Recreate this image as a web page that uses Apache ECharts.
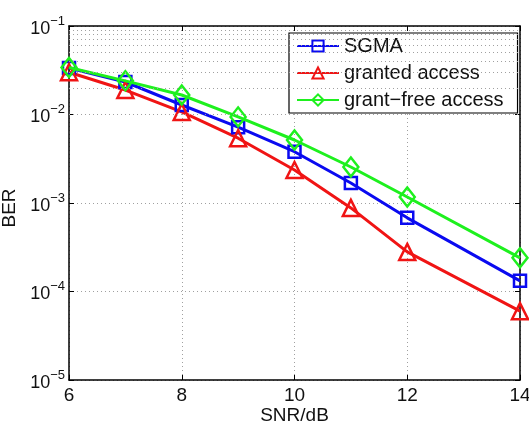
<!DOCTYPE html>
<html><head><meta charset="utf-8">
<script src="https://cdn.jsdelivr.net/npm/echarts@6/dist/echarts.min.js"></script>
<style>html,body{margin:0;padding:0;background:#fff}#c{width:529px;height:427px}</style>
</head><body><div id="c"></div>
<script>
const snr = [6, 7, 8, 9, 10, 11, 12, 14];
const sgma = [0.0335, 0.0233, 0.0128, 0.0072, 0.0038, 0.00168, 0.00068, 0.000132];
const granted = [0.030, 0.0189, 0.0107, 0.0054, 0.00236, 0.00088, 0.00028, 0.000060];
const grantFree = [0.0340, 0.0240, 0.0166, 0.0094, 0.00515, 0.00255, 0.00117, 0.00024];
const xTicks = [6, 8, 10, 12, 14];
const yMinor = [];
for (let e = -5; e < -1; e++) for (let m = 2; m <= 9; m++) yMinor.push(m * Math.pow(10, e));

const FONT = 'Liberation Sans';
const pair = (xs, ys) => xs.map((x, i) => [x, ys[i]]);
const supFmt = v => {
  const e = Math.round(Math.log10(v));
  return '{b|10}{s|' + (e < 0 ? '\u2212' : '') + Math.abs(e) + '}';
};
const dotted = { color: '#a0a0a0', type: [1, 3], width: 1 };

const chart = echarts.init(document.getElementById('c'));
chart.setOption({
  animation: false,
  backgroundColor: '#fff',
  grid: { left: 69, right: 9, top: 26, bottom: 47, show: false, outerBoundsMode: 'none', containLabel: false },
  legend: {
    orient: 'vertical', left: 289, top: 33,
    padding: [3, 14, 3, 7], itemGap: 7, itemWidth: 42, itemHeight: 14,
    borderColor: '#000', borderWidth: 1.2, backgroundColor: '#fff',
    textStyle: { fontFamily: FONT, fontSize: 20, color: '#111' },
    data: ['SGMA', 'granted access', 'grant\u2212free access']
  },
  xAxis: [{
    type: 'value', min: 6, max: 14, interval: 2,
    name: 'SNR/dB', nameLocation: 'middle', nameGap: 26, nameMoveOverlap: false,
    nameTextStyle: { fontFamily: FONT, fontSize: 19, color: '#111' },
    axisLine: { lineStyle: { color: '#000', width: 1.5 } },
    axisTick: { inside: true, length: 5, lineStyle: { color: '#000' } },
    axisLabel: { fontFamily: FONT, fontSize: 19, color: '#111', margin: 6,
      formatter: v => xTicks.includes(v) ? String(v) : '' },
    splitLine: { show: true, lineStyle: dotted }
  }, {
    type: 'value', min: 6, max: 14, interval: 2, position: 'top',
    axisLine: { onZero: false, lineStyle: { color: '#000', width: 1.5 } },
    axisTick: { inside: true, length: 5, lineStyle: { color: '#000' } },
    axisLabel: { show: false }, splitLine: { show: false }
  }],
  yAxis: [{
    type: 'log', logBase: 10, min: 1e-5, max: 1e-1,
    name: 'BER', nameLocation: 'middle', nameGap: 50, nameMoveOverlap: false,
    nameTextStyle: { fontFamily: FONT, fontSize: 19, color: '#111', padding: [0, 10, 0, 0] },
    axisLine: { show: true, lineStyle: { color: '#000', width: 1.5 } },
    axisTick: { inside: true, length: 5, lineStyle: { color: '#000' } },
    axisLabel: {
      margin: 4, formatter: supFmt,
      rich: {
        b: { fontFamily: FONT, fontSize: 18, color: '#111', padding: [6, 0, 0, 0] },
        s: { fontFamily: FONT, fontSize: 13, color: '#111', padding: [0, 0, 10, 0] }
      }
    },
    splitLine: { show: true, lineStyle: dotted }
  }, {
    type: 'log', logBase: 10, min: 1e-5, max: 1e-1, position: 'right',
    axisLine: { show: true, onZero: false, lineStyle: { color: '#000', width: 1.5 } },
    axisTick: { inside: true, length: 5, lineStyle: { color: '#000' } },
    axisLabel: { show: false }, splitLine: { show: false }
  }],
  series: [{
    type: 'line', name: 'SGMA', data: pair(snr, sgma),
    symbol: 'rect', symbolSize: 12, z: 3,
    lineStyle: { color: '#0a0af0', width: 3 },
    itemStyle: { color: 'rgba(255,255,255,0)', borderColor: '#0a0af0', borderWidth: 2.5 },
    markLine: {
      silent: true, symbol: 'none', label: { show: false }, animation: false,
      lineStyle: dotted, data: yMinor.map(v => ({ yAxis: v }))
    }
  }, {
    type: 'line', name: 'granted access', data: pair(snr, granted),
    symbol: 'triangle', symbolSize: 16, z: 3,
    lineStyle: { color: '#f01414', width: 3 },
    itemStyle: { color: 'rgba(255,255,255,0)', borderColor: '#f01414', borderWidth: 2.5 }
  }, {
    type: 'line', name: 'grant\u2212free access', data: pair(snr, grantFree),
    symbol: 'diamond', symbolSize: [15, 19], z: 4,
    lineStyle: { color: '#1ef01e', width: 3 },
    itemStyle: { color: 'rgba(255,255,255,0)', borderColor: '#1ef01e', borderWidth: 2.5 }
  }]
});
</script></body></html>
